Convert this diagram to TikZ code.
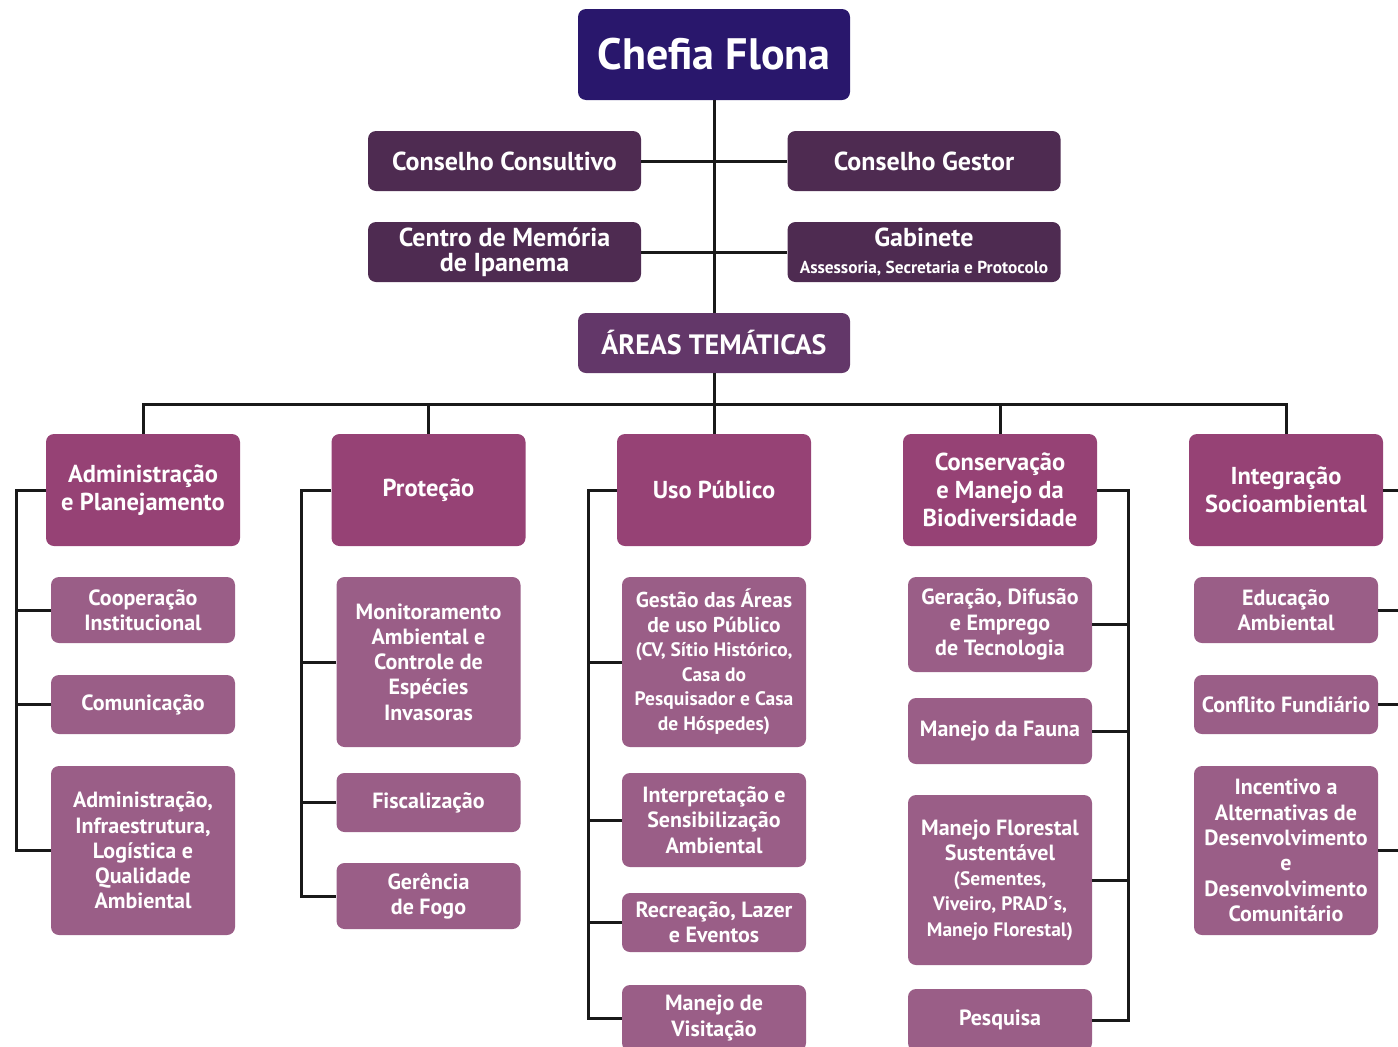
\documentclass[tikz,border=0pt]{standalone}
\usepackage{fontspec}
\setmainfont{PT Sans}
\definecolor{cTop}{HTML}{29176C}
\definecolor{cCons}{HTML}{4E2B51}
\definecolor{cAreas}{HTML}{633769}
\definecolor{cMain}{HTML}{964275}
\definecolor{cSub}{HTML}{9A5E87}
\tikzset{
  basebox/.style={rounded corners=8pt, text=white, align=center, inner sep=0pt, font=\bfseries},
  topbox/.style={basebox, fill=cTop, minimum width=272pt, minimum height=91pt, font=\bfseries\fontsize{44}{46}\selectfont},
  consbox/.style={basebox, fill=cCons, minimum width=273pt, minimum height=60pt, font=\bfseries\fontsize{26}{25.5}\selectfont},
  areasbox/.style={basebox, fill=cAreas, minimum width=272pt, minimum height=60pt, font=\bfseries\fontsize{28}{30}\selectfont},
  mainbox/.style={basebox, fill=cMain, minimum width=194pt, minimum height=112pt, font=\bfseries\fontsize{24.5}{28}\selectfont},
  subbox/.style={basebox, fill=cSub, minimum width=184pt, font=\bfseries\fontsize{22}{25.3}\selectfont},
  conn/.style={line width=3pt, draw=black!90}
}
\newcommand{\smtx}[1]{{\fontsize{19.5}{23}\selectfont #1}}
\begin{document}
\begin{tikzpicture}[x=1pt,y=-1pt]
\useasboundingbox (0,0) rectangle (1398,1047);
% top
\node[topbox] (chefia) at (714,54.5) {Chefia Flona};
\node[consbox] (consul) at (504.5,161) {Conselho Consultivo};
\node[consbox] (gestor) at (924,161) {Conselho Gestor};
\node[consbox] (memoria) at (504.5,252) {Centro de Memória\\de Ipanema};
\node[consbox] (gabinete) at (924,252) {Gabinete\\[1pt]{\fontsize{17.3}{18}\selectfont Assessoria, Secretaria e Protocolo}};
\node[areasbox] (areas) at (714,343) {ÁREAS TEMÁTICAS};
\coordinate (bus) at (714,404);
% main areas
\node[mainbox] (adm) at (143,490) {Administração\\e Planejamento};
\node[mainbox] (prot) at (428.5,490) {Proteção};
\node[mainbox] (uso) at (714,490) {Uso Público};
\node[mainbox] (cons) at (1000,490) {Conservação\\e Manejo da\\Biodiversidade};
\node[mainbox] (integ) at (1286,490) {Integração\\Socioambiental};
% connectors top
\draw[conn] (chefia.south) -- (areas.north);
\draw[conn] (consul.east) -- (gestor.west);
\draw[conn] (memoria.east) -- (gabinete.west);
\draw[conn] (areas.south) -- (uso.north);
\draw[conn] (adm.north) |- (bus) -| (integ.north);
\draw[conn] (prot.north) -- (prot.north |- bus);
\draw[conn] (cons.north) -- (cons.north |- bus);
% Admin subs
\node[subbox, minimum height=66pt] (coop) at (143,610) {Cooperação\\Institucional};
\node[subbox, minimum height=59pt] (comun) at (143,704.5) {Comunicação};
\node[subbox, minimum height=169pt] (admi) at (143,850.5) {Administração,\\Infraestrutura,\\Logística e\\Qualidade\\Ambiental};
\coordinate (la) at (16,490);
\draw[conn] (adm.west) -- (la) |- (admi.west);
\draw[conn] (coop.west) -- (coop.west -| la);
\draw[conn] (comun.west) -- (comun.west -| la);
% Protecao subs
\node[subbox, minimum height=170pt] (monit) at (428.5,662) {Monitoramento\\Ambiental e\\Controle de\\Espécies\\Invasoras};
\node[subbox, minimum height=59pt] (fisc) at (428.5,802.5) {Fiscalização};
\node[subbox, minimum height=66pt] (fogo) at (428.5,896) {Gerência\\de Fogo};
\coordinate (lp) at (301,490);
\draw[conn] (prot.west) -- (lp) |- (fogo.west);
\draw[conn] (monit.west) -- (monit.west -| lp);
\draw[conn] (fisc.west) -- (fisc.west -| lp);
% Uso publico subs
\node[subbox, minimum height=170pt, font=\bfseries\fontsize{21.5}{24.5}\selectfont] (gest) at (714,662) {Gestão das Áreas\\de uso Público\\\smtx{(CV, Sítio Histórico,}\\\smtx{Casa do}\\\smtx{Pesquisador e Casa}\\\smtx{de Hóspedes)}};
\node[subbox, minimum height=94pt] (interp) at (714,820) {Interpretação e\\Sensibilização\\Ambiental};
\node[subbox, minimum height=59pt] (recr) at (714,922.5) {Recreação, Lazer\\e Eventos};
\node[subbox, minimum height=66pt] (visit) at (714,1018) {Manejo de\\Visitação};
\coordinate (lu) at (588,490);
\draw[conn] (uso.west) -- (lu) |- (visit.west);
\draw[conn] (gest.west) -- (gest.west -| lu);
\draw[conn] (interp.west) -- (interp.west -| lu);
\draw[conn] (recr.west) -- (recr.west -| lu);
% Conservacao subs
\node[subbox, minimum height=95pt] (gera) at (1000,624.5) {Geração, Difusão\\e Emprego\\de Tecnologia};
\node[subbox, minimum height=66pt] (fauna) at (1000,731) {Manejo da Fauna};
\node[subbox, minimum height=170pt] (flor) at (1000,880) {Manejo Florestal\\Sustentável\\\smtx{(Sementes,}\\\smtx{Viveiro, PRAD´s,}\\\smtx{Manejo Florestal)}};
\node[subbox, minimum height=62pt] (pesq) at (1000,1020) {Pesquisa};
\coordinate (lc) at (1128,490);
\draw[conn] (cons.east) -- (lc) |- (pesq.east);
\draw[conn] (gera.east) -- (gera.east -| lc);
\draw[conn] (fauna.east) -- (fauna.east -| lc);
\draw[conn] (flor.east) -- (flor.east -| lc);
% Integracao subs
\node[subbox, minimum height=66pt] (educ) at (1286,610) {Educação\\Ambiental};
\node[subbox, minimum height=59pt] (confl) at (1286,704.5) {Conflito Fundiário};
\node[subbox, minimum height=169pt] (incent) at (1286,850.5) {Incentivo a\\Alternativas de\\Desenvolvimento\\e\\Desenvolvimento\\Comunitário};
\coordinate (ri) at (1398,490);
\draw[conn] (integ.east) -- (ri);
\draw[conn] (educ.east) -- (educ.east -| ri);
\draw[conn] (confl.east) -- (confl.east -| ri);
\draw[conn] (incent.east) -- (incent.east -| ri);
\end{tikzpicture}
\end{document}
